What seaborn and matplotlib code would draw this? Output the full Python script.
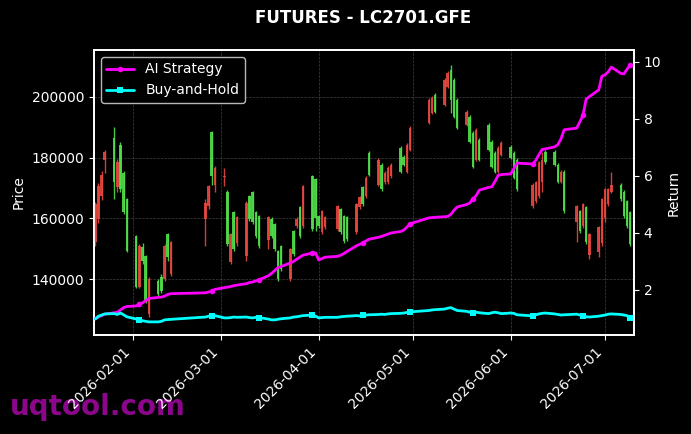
import numpy as np
import pandas as pd
import matplotlib
matplotlib.use("Agg")
import matplotlib.pyplot as plt
import matplotlib.dates as mdates
import seaborn as sns

# ---------------- data ----------------
start_date = "2026-01-20"
end_date = "2026-07-09"
closed_days = ["2026-02-16", "2026-02-17", "2026-02-18", "2026-02-19", "2026-02-20",
               "2026-02-23", "2026-04-06", "2026-05-01", "2026-05-04", "2026-05-05",
               "2026-06-04", "2026-06-05", "2026-06-19"]

open_ = [164600, 170500, 174400, 182000, 171800, 178700, 169500, 162000, 149200, 137400,
         150800, 145900, 132500, 140000, 135100, 136000, 150800, 147200, 152100, 165000,
         170500, 174000, 176700, 174000, 151500, 154700, 149800, 160300, 165200, 159700,
         158700, 154100, 150800, 160300, 154100, 149800, 140000, 143300, 149800, 148200,
         159700, 154100, 170500, 156400, 160000, 157400, 162300, 160300, 163900, 155400,
         152400, 153100, 164600, 166900, 164600, 173400, 174400, 179300, 169500, 175000,
         176700, 177700, 175400, 177700, 184300, 189800, 199000, 199700, 195100, 205600,
         207900, 199000, 193400, 189800, 195100, 185200, 177000, 189200, 179300, 182600,
         177000, 175400, 183300, 184900, 180000, 173400, 169500, 171100, 171800, 178400,
         179300, 178400, 177700, 172100, 175400, 162300, 163900, 155700, 164600, 152100,
         154700, 157000, 166200, 169500, 169500, 171100, 166200, 160600, 157400, 151500]
high = [165500, 171500, 175500, 182500, 190200, 179500, 185300, 175500, 166800, 154600,
        151500, 152000, 148000, 140500, 140000, 141500, 151500, 155200, 152500, 166200,
        171000, 188800, 177300, 176700, 169300, 155200, 162500, 160800, 165800, 167800,
        169000, 162500, 161000, 160800, 160300, 158500, 149700, 151300, 150300, 156200,
        160300, 164200, 171000, 174300, 173300, 161200, 162800, 160800, 164400, 163400,
        161100, 160800, 165100, 167400, 170700, 173900, 182100, 179800, 178200, 175500,
        177200, 178200, 183800, 180800, 184800, 190300, 199500, 200200, 201200, 206100,
        208400, 210500, 206100, 199500, 195600, 193900, 188700, 189700, 186400, 191300,
        185700, 182100, 183800, 185400, 184100, 182100, 179800, 171600, 172300, 178900,
        182000, 182600, 182500, 178200, 175900, 175900, 164400, 162800, 165100, 164100,
        155200, 157500, 166700, 170000, 170000, 175400, 171600, 169300, 166100, 162500]
low = [151000, 158500, 166000, 175000, 166200, 168800, 168500, 161500, 148800, 137000,
       137000, 145000, 132000, 127500, 134500, 135500, 139500, 146000, 141000, 150800,
       163000, 171100, 168800, 170500, 151000, 145000, 149300, 150800, 145900, 159000,
       158000, 153500, 150300, 149800, 153500, 149300, 139500, 142800, 139500, 147700,
       156800, 153600, 156800, 155900, 155700, 156800, 154800, 156500, 155900, 154900,
       151900, 152600, 154900, 163100, 164100, 166700, 173900, 170600, 169000, 171300,
       171300, 173300, 174900, 177200, 174900, 182100, 191000, 194300, 194600, 196900,
       202800, 194800, 192900, 189300, 190300, 184700, 176500, 178800, 178800, 182100,
       176500, 174900, 174900, 180500, 179500, 172900, 169000, 163400, 165100, 166700,
       168800, 177900, 177200, 171600, 171600, 161800, 152100, 155200, 156900, 151600,
       146500, 147200, 150800, 158700, 164100, 168300, 165700, 160100, 156900, 151000]
close = [152100, 159700, 167200, 179300, 186600, 170200, 184300, 175000, 166200, 154100,
         137400, 150500, 147500, 128500, 139300, 140600, 140000, 154700, 141600, 159700,
         163900, 188500, 171000, 173500, 168800, 145600, 162000, 152000, 147500, 167200,
         168500, 162000, 160600, 153000, 159700, 158000, 149200, 150800, 140000, 155700,
         157400, 163600, 157400, 173800, 172800, 160600, 155400, 157000, 156400, 162900,
         160600, 160300, 155400, 163600, 170200, 167200, 181600, 171100, 177700, 171800,
         171800, 173800, 183300, 180300, 175400, 182600, 191500, 194800, 200700, 197400,
         203300, 208900, 205600, 199000, 190800, 193400, 188200, 179300, 185900, 190800,
         185200, 181600, 175400, 181000, 183600, 181600, 179300, 163900, 165600, 167200,
         172000, 182000, 182000, 177700, 172100, 175400, 158700, 162300, 157400, 163600,
         148000, 149000, 152000, 160000, 164600, 168800, 171100, 168800, 165600, 162000]

ai_strategy = [1.00, 1.05, 1.10, 1.15, 1.20, 1.22, 1.30, 1.38, 1.42, 1.44,
               1.50, 1.55, 1.62, 1.70, 1.74, 1.75, 1.78, 1.84, 1.87, 1.90,
               1.93, 1.95, 2.02, 2.08, 2.10, 2.12, 2.15, 2.17, 2.22, 2.26,
               2.28, 2.32, 2.35, 2.50, 2.58, 2.68, 2.78, 2.82, 2.95, 3.00,
               3.08, 3.15, 3.22, 3.30, 3.30, 3.05, 3.10, 3.15, 3.18, 3.22,
               3.28, 3.35, 3.55, 3.60, 3.65, 3.72, 3.78, 3.85, 3.88, 3.92,
               3.96, 4.00, 4.05, 4.10, 4.20, 4.32, 4.53, 4.54, 4.55, 4.57,
               4.58, 4.65, 4.80, 4.91, 5.00, 5.05, 5.20, 5.30, 5.50, 5.60,
               5.62, 5.80, 6.02, 6.05, 6.07, 6.25, 6.45, 6.42, 6.55, 6.75,
               6.93, 6.95, 7.02, 7.10, 7.30, 7.62, 7.68, 7.90, 8.14, 8.70,
               8.78, 9.02, 9.50, 9.55, 9.65, 9.82, 9.60, 9.58, 9.75, 9.89]
buy_and_hold = [0.98, 1.08, 1.12, 1.16, 1.17, 1.14, 1.19, 1.13, 1.06, 0.98,
                0.95, 0.92, 0.90, 0.88, 0.88, 0.90, 0.95, 0.96, 0.97, 1.05,
                1.08, 1.10, 1.10, 1.02, 1.02, 1.03, 1.05, 1.04, 1.05, 1.03,
                1.02, 1.04, 1.03, 0.98, 0.95, 0.95, 0.97, 0.99, 1.02, 1.05,
                1.06, 1.08, 1.10, 1.12, 1.08, 1.02, 1.03, 1.04, 1.04, 1.06,
                1.07, 1.08, 1.10, 1.09, 1.11, 1.12, 1.13, 1.14, 1.15, 1.14,
                1.16, 1.17, 1.18, 1.19, 1.21, 1.23, 1.28, 1.30, 1.31, 1.33,
                1.36, 1.38, 1.33, 1.28, 1.25, 1.22, 1.19, 1.22, 1.20, 1.17,
                1.20, 1.22, 1.20, 1.17, 1.19, 1.18, 1.13, 1.09, 1.13, 1.16,
                1.18, 1.19, 1.16, 1.14, 1.12, 1.13, 1.15, 1.12, 1.09, 1.06,
                1.05, 1.08, 1.10, 1.12, 1.15, 1.16, 1.14, 1.12, 1.10, 1.02]

title_text = "FUTURES - LC2701.GFE"
watermark = "uqtool.com"

# ---------------- build ----------------
dates = pd.bdate_range(start_date, end_date)
dates = dates[~dates.isin(pd.to_datetime(closed_days))]
df = pd.DataFrame({"date": dates, "open": open_, "high": high, "low": low,
                   "close": close, "ai": ai_strategy, "bh": buy_and_hold})

BG = "black"
sns.set_theme(style="dark", rc={
    "figure.facecolor": BG, "axes.facecolor": BG, "savefig.facecolor": BG,
    "axes.edgecolor": "white", "text.color": "white", "axes.labelcolor": "white",
    "xtick.color": "white", "ytick.color": "white", "axes.grid": False,
})
plt.rcParams["font.family"] = ["DejaVu Sans"]

fig = plt.figure(figsize=(6.91, 4.34), dpi=100)
ax = fig.add_axes([94 / 691, 1 - 335 / 434, 540 / 691, 285 / 434])

up = df["close"] >= df["open"]
col_up, col_dn = "#4fe04a", "#e8483f"
colors = np.where(up, col_up, col_dn)
ax.vlines(df["date"], df["low"], df["high"], colors=colors, linewidth=1, alpha=0.9, zorder=2)
body_low = np.minimum(df["open"], df["close"])
body_h = np.abs(df["close"] - df["open"])
ax.bar(df["date"], body_h, bottom=body_low, width=0.8, color=colors, alpha=0.9,
       linewidth=0, zorder=3)

ax.set_ylim(121550, 215450)
ax.set_xlim(pd.Timestamp("2026-01-19 14:00"), pd.Timestamp("2026-07-10 05:00"))
ax.set_yticks([140000, 160000, 180000, 200000])
ax.yaxis.set_major_formatter(matplotlib.ticker.FuncFormatter(lambda v, p: f"{int(v)}"))
ax.xaxis.set_major_locator(mdates.MonthLocator())
ax.xaxis.set_major_formatter(mdates.DateFormatter("%Y-%m-%d"))
plt.setp(ax.get_xticklabels(), rotation=45, ha="right")
ax.grid(True, color="gray", linestyle="--", linewidth=0.5, alpha=0.5)
ax.set_ylabel("Price", color="white", fontsize=10)
ax.tick_params(axis="both", colors="white", labelsize=10, length=3.5, width=0.8,
               bottom=True, left=True)
for s in ax.spines.values():
    s.set_color("white")

ax2 = ax.twinx()
sns.lineplot(data=df, x="date", y="ai", ax=ax2, color="#ff00ff", linewidth=2,
             marker="o", markersize=4, markevery=(10, 11), markeredgewidth=0,
             markeredgecolor="#ff00ff", label="AI Strategy", zorder=5)
sns.lineplot(data=df, x="date", y="bh", ax=ax2, color="#00ffff", linewidth=2,
             marker="s", markersize=4, markevery=(10, 11), markeredgewidth=0,
             markeredgecolor="#00ffff", label="Buy-and-Hold", zorder=5)
ax2.set_ylim(0.42, 10.42)
ax2.set_yticks([2, 4, 6, 8, 10])
ax2.set_ylabel("Return", color="white", fontsize=10)
ax2.tick_params(axis="y", colors="white", labelsize=10, length=3.5, width=0.8, right=True)
ax2.grid(False)
for s in ax2.spines.values():
    s.set_color("white")
ax2.set_xlim(ax.get_xlim())

leg = ax2.legend(loc="upper left", fontsize=10, facecolor="black", edgecolor="#cccccc",
                 labelcolor="white", framealpha=0.9)

fig.text(363 / 691, 1 - 18 / 434, title_text, ha="center", va="center",
         fontsize=12, fontweight="bold", color="white")
fig.text(10 / 691, 1 - 421 / 434, watermark, ha="left", va="bottom", fontsize=20,
         fontweight="bold", color="#8b068b", zorder=-1)

fig.savefig("out.png", dpi=100, facecolor=BG)
